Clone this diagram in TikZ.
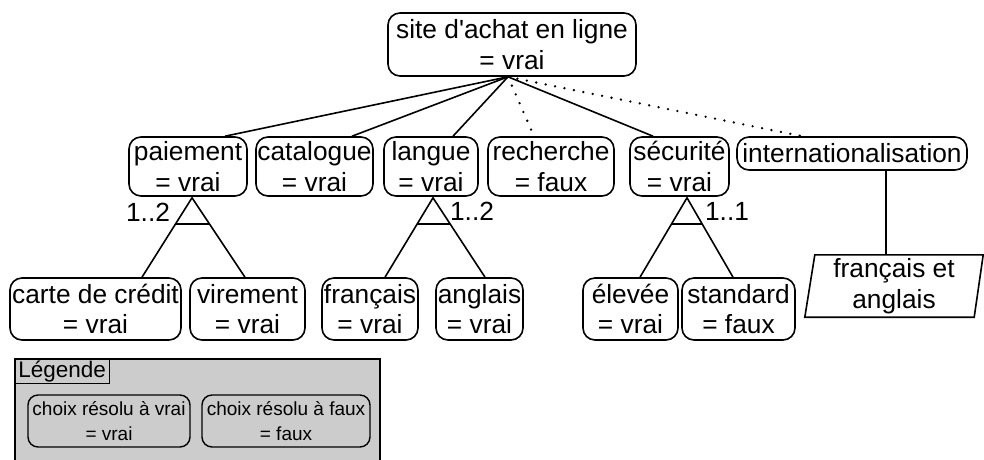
\documentclass[tikz,border=0pt]{standalone}
\usepackage{fontspec}
\setmainfont{Liberation Sans}[Ligatures=TeXOff]
\usetikzlibrary{calc}
\definecolor{leggray}{RGB}{204,204,204}
\begin{document}
\begin{tikzpicture}[x=1pt,y=-1pt,
  feat/.style={draw, line width=1.6pt, rounded corners=12pt, align=center, inner sep=0pt,
               font=\fontsize{26.3}{30.5}\selectfont},
  conn/.style={line width=1.6pt},
  opt/.style={line width=2.6pt, line cap=round, dash pattern=on 0pt off 9.6pt},
  card/.style={font=\fontsize{26.3}{30.5}\selectfont, inner sep=0pt},
  legitem/.style={draw, line width=1.4pt, rounded corners=10pt, align=center, inner sep=0pt,
               font=\fontsize{19}{25}\selectfont, fill=leggray}
  ]
\useasboundingbox (0,0) rectangle (984,459);

% legend background
\node[draw, line width=1.6pt, fill=leggray, anchor=north west, minimum width=365pt, minimum height=120pt, inner sep=0pt] (legend) at (14,358) {};
\node[draw, line width=1.4pt, anchor=north west, minimum width=95pt, minimum height=25pt, inner sep=0pt,
      font=\fontsize{22.5}{26}\selectfont] (legtitle) at (legend.north west) {Légende};
\node[legitem, minimum width=162pt, minimum height=52pt] (legv) at (109,421) {choix résolu à vrai\\= vrai};
\node[legitem, minimum width=168pt, minimum height=52pt] (legf) at (286,421) {choix résolu à faux\\= faux};

% nodes
\node[feat, minimum width=248pt, minimum height=63pt] (root) at (512,44.5) {site d'achat en ligne\\= vrai};
\node[feat, minimum width=118pt, minimum height=59pt] (pay) at (188,166.5) {paiement\\= vrai};
\node[feat, minimum width=117pt, minimum height=59pt] (cat) at (314.5,166.5) {catalogue\\= vrai};
\node[feat, minimum width=94pt, minimum height=59pt] (lang) at (431,166.5) {langue\\= vrai};
\node[feat, minimum width=126pt, minimum height=59pt] (rech) at (551,166.5) {recherche\\= faux};
\node[feat, minimum width=99pt, minimum height=59pt] (sec) at (679.5,166.5) {sécurité\\= vrai};
\node[feat, minimum width=230pt, minimum height=33pt] (intl) at (852,153.5) {internationalisation};

\node[feat, minimum width=171pt, minimum height=62pt] (carte) at (95.5,309) {carte de crédit\\= vrai};
\node[feat, minimum width=115pt, minimum height=62pt] (vir) at (247.5,309) {virement\\= vrai};
\node[feat, minimum width=96pt, minimum height=62pt] (fr) at (370,309) {français\\= vrai};
\node[feat, minimum width=87pt, minimum height=62pt] (ang) at (479.5,309) {anglais\\= vrai};
\node[feat, minimum width=95pt, minimum height=62pt] (elev) at (630.5,309) {élevée\\= vrai};
\node[feat, minimum width=113pt, minimum height=62pt] (std) at (738.5,309) {standard\\= faux};

\node[card, align=center, minimum width=178pt, minimum height=62pt] (para) at (894,286) {français et\\anglais};
\draw[conn] ($(para.north west)+(10,0)$) -- (para.north east) -- ($(para.south east)+(-9,0)$) -- (para.south west) -- cycle;

% connectors from root
\coordinate (rs) at ($(root.south)+(-4,0)$);
\draw[conn] (rs) -- ($(pay.north)+(37,0)$);
\draw[conn] (rs) -- ($(cat.north)+(37.5,0)$);
\draw[conn] (rs) -- ($(lang.north)+(22,0)$);
\draw[conn] (rs) -- ($(sec.north)+(-26.5,0)$);
\draw[opt] (rs) -- ($(rech.north)+(-17,0)$);
\draw[opt] (rs) -- ($(intl.north)+(-50,0)$);

% groups
\coordinate (pa) at ($(pay.south)+(4,1)$);
\coordinate (pc1) at ($(carte.north)+(46.5,0)$);
\coordinate (pc2) at ($(vir.north)+(-2.5,0)$);
\draw[conn] (pc1) -- (pa) -- (pc2);
\draw[conn] ($(pa)!0.33!(pc1)$) -- ($(pa)!0.33!(pc2)$);
\node[card] (pcard) at ($(pa)+(-44,15)$) {1..2};

\coordinate (la) at ($(lang.south)+(2,1)$);
\coordinate (lc1) at ($(fr.north)+(15,0)$);
\coordinate (lc2) at ($(ang.north)+(5.5,0)$);
\draw[conn] (lc1) -- (la) -- (lc2);
\draw[conn] ($(la)!0.33!(lc1)$) -- ($(la)!0.33!(lc2)$);
\node[card] (lcard) at ($(la)+(39,14)$) {1..2};

\coordinate (sa) at ($(sec.south)+(7.5,1)$);
\coordinate (sc1) at ($(elev.north)+(9.5,0)$);
\coordinate (sc2) at ($(std.north)+(-5.5,0)$);
\draw[conn] (sc1) -- (sa) -- (sc2);
\draw[conn] ($(sa)!0.33!(sc1)$) -- ($(sa)!0.33!(sc2)$);
\node[card] (scard) at ($(sa)+(40,14)$) {1..1};

\coordinate (ib) at ($(intl.south)+(34,0)$);
\draw[conn] (ib) -- (ib |- para.north);
\end{tikzpicture}
\end{document}
